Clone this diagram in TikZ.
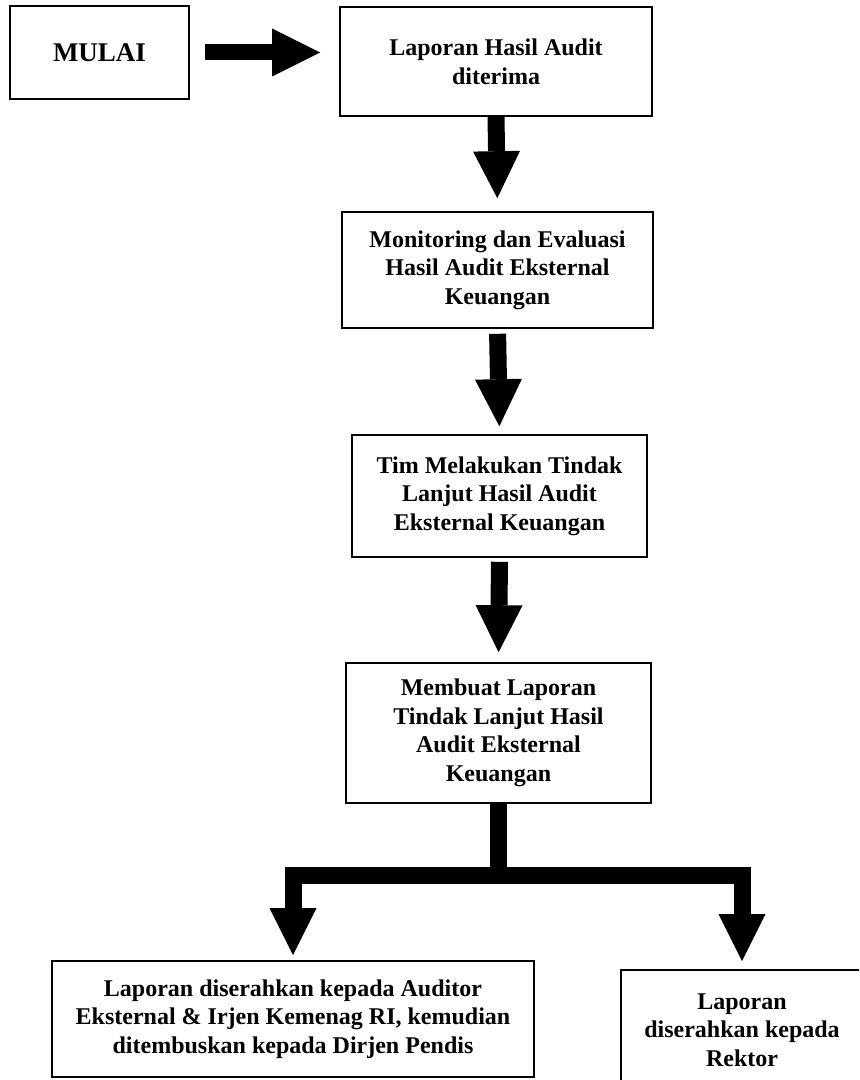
\documentclass[tikz,border=0pt]{standalone}
\usepackage{fontspec}
\setmainfont{Liberation Serif}
\usetikzlibrary{arrows.meta}
\tikzset{
  box/.style={draw,rectangle,line width=0.8pt,align=center,inner sep=2pt,
    font=\fontsize{12pt}{14.3pt}\selectfont\bfseries},
  flow/.style={line width=8.5pt,line join=miter,
    -{Triangle[length=23.5pt,width=23.5pt,line width=0pt]}}
}
\begin{document}
\begin{tikzpicture}[x=0.5pt,y=-0.5pt]
  \useasboundingbox (0,0) rectangle (859,1080);
  \clip (0,0) rectangle (859,1080);
  \node[box,minimum width=89.5pt,minimum height=46.5pt,
    font=\fontsize{13.5pt}{16pt}\selectfont\bfseries] (mulai) at (99.5,52.5) {MULAI};
  \node[box,minimum width=156pt,minimum height=54.5pt] (terima) at (496,61.5)
    {Laporan Hasil Audit\\ diterima};
  \node[box,minimum width=155.5pt,minimum height=58pt] (monev) at (497.5,270)
    {Monitoring dan Evaluasi\\ Hasil Audit Eksternal\\ Keuangan};
  \node[box,minimum width=147.5pt,minimum height=61pt] (tindak) at (499.5,496)
    {Tim Melakukan Tindak\\ Lanjut Hasil Audit\\ Eksternal Keuangan};
  \node[box,minimum width=152.5pt,minimum height=70pt] (buat) at (498.5,733)
    {Membuat Laporan\\ Tindak Lanjut Hasil\\ Audit Eksternal\\ Keuangan};
  \node[box,minimum width=241pt,minimum height=58pt] (serah) at (293,1019)
    {Laporan diserahkan kepada Auditor\\ Eksternal \& Irjen Kemenag RI, kemudian\\ ditembuskan kepada Dirjen Pendis};
  \node[box,minimum width=121pt,minimum height=60pt] (rektor) at (742,1030)
    {Laporan\\ diserahkan kepada\\ Rektor};
  \coordinate (split) at (503,875);
  \draw[flow,line width=8pt,-{Triangle[length=24pt,width=24pt,line width=0pt]},
    shorten <=7.5pt,shorten >=9.5pt] (mulai.east) -- (mulai.east -| terima.west);
  \draw[flow,shorten >=6.5pt] (terima.south) -- (monev.north);
  \draw[flow,shorten <=2.5pt,shorten >=4pt] (monev.south) -- (tindak.north);
  \draw[flow,shorten <=2pt,shorten >=5pt] (tindak.south) -- (buat.north);
  \draw[flow,shorten >=2.5pt] (buat.south) |- (split) -| (serah.north);
  \draw[flow,shorten >=4pt] (split) -| (rektor.north);
\end{tikzpicture}
\end{document}
